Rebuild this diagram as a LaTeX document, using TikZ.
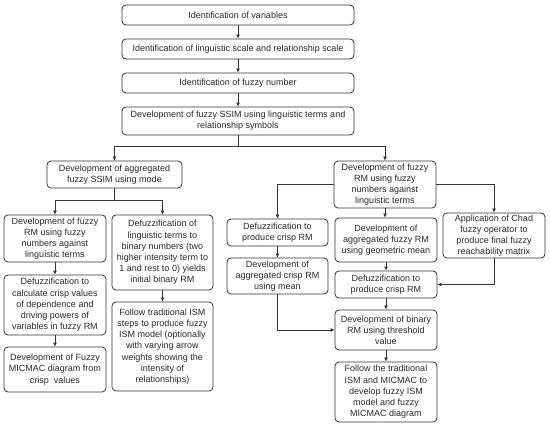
\documentclass[tikz,border=0pt]{standalone}
\usepackage{fontspec}
\setmainfont{Liberation Sans}
\usetikzlibrary{arrows.meta}
\definecolor{ln}{HTML}{333333}
\definecolor{tx}{HTML}{2B2B2B}
\begin{document}
\begin{tikzpicture}[x=1pt,y=-1pt,
  box/.style={draw=ln, line width=0.8pt, rounded corners=4pt, fill=white, align=center,
    inner sep=0pt, text=tx, font=\fontsize{9}{11.2}\selectfont},
  arr/.style={draw=ln, line width=0.8pt, -{Latex[length=4pt,width=4pt]}},
  ln/.style={draw=ln, line width=0.8pt}]
\useasboundingbox (0,0) rectangle (550,427);
\fill[white] (0,0) rectangle (550,427);
% top chain
\node[box, minimum width=232pt, minimum height=20pt] (b1) at (238,15) {Identification of variables};
\node[box, minimum width=232pt, minimum height=20pt] (b2) at (238,49) {Identification of linguistic scale and relationship scale};
\node[box, minimum width=232pt, minimum height=20pt] (b3) at (238,83) {Identification of fuzzy number};
\node[box, minimum width=232pt, minimum height=28pt] (b4) at (238,121) {Development of fuzzy SSIM using linguistic terms and\\relationship symbols};
% left branch
\node[box, minimum width=135pt, minimum height=27pt] (a) at (114.5,174.5) {Development of aggregated\\fuzzy SSIM using mode};
\node[box, minimum width=102pt, minimum height=47pt] (l1) at (55,238.5) {Development of fuzzy\\RM using fuzzy\\numbers against\\linguistic terms};
\node[box, minimum width=102pt, minimum height=60pt] (l1b) at (55,305) {Defuzzification to\\calculate crisp values\\of dependence and\\driving powers of\\variables in fuzzy RM};
\node[box, minimum width=102pt, minimum height=45pt] (l1c) at (55,369.5) {Development of Fuzzy\\MICMAC diagram from\\crisp\ \ values};
\node[box, minimum width=101pt, minimum height=75pt] (l2) at (162.5,252.5) {Defuzzification of\\linguistic terms to\\binary numbers (two\\higher intensity term to\\1 and rest to 0) yields\\initial binary RM};
\node[box, minimum width=101pt, minimum height=89pt] (l2b) at (162.5,346.5) {Follow traditional ISM\\steps to produce fuzzy\\ISM model (optionally\\with varying arrow\\weights showing the\\intensity of\\relationships)};
% right branch
\node[box, minimum width=102pt, minimum height=47pt] (r) at (385,184.5) {Development of fuzzy\\RM using fuzzy\\numbers against\\linguistic terms};
\node[box, minimum width=101pt, minimum height=27pt] (r1) at (277.5,232.5) {Defuzzification to\\produce crisp RM};
\node[box, minimum width=101pt, minimum height=36pt] (r1b) at (277.5,276) {Development of\\aggregated crisp RM\\using mean};
\node[box, minimum width=102pt, minimum height=44pt] (r2) at (386,240) {Development of\\aggregated fuzzy RM\\using geometric mean};
\node[box, minimum width=102pt, minimum height=27pt] (r2b) at (386,284.5) {Defuzzification to\\produce crisp RM};
\node[box, minimum width=102pt, minimum height=45pt] (r3) at (494,235.5) {Application of Chad\\fuzzy operator to\\produce final fuzzy\\reachability matrix};
\node[box, minimum width=102pt, minimum height=40pt] (r4) at (386,330) {Development of binary\\RM using threshold\\value};
\node[box, minimum width=102pt, minimum height=60pt] (r5) at (386,392) {Follow the traditional\\ISM and MICMAC to\\develop fuzzy ISM\\model and fuzzy\\MICMAC diagram};
% junctions
\coordinate (j1) at (238,146);
\coordinate (j2) at (114.5,200);
% connectors
\draw[arr] (b1) -- (b2);
\draw[arr] (b2) -- (b3);
\draw[arr] (b3) -- (b4);
\draw[ln] (b4.south) -- (j1);
\draw[arr] (j1) -| (a.north);
\draw[arr] (j1) -| (r.north);
\draw[ln] (a.south) -- (j2);
\draw[arr] (j2) -| (l1.north);
\draw[arr] (j2) -| (l2.north);
\draw[arr] (l1) -- (l1b);
\draw[arr] (l1b) -- (l1c);
\draw[arr] (l2) -- (l2b);
\draw[arr] (r.west) -| (r1.north);
\draw[arr] (r.east) -| (r3.north);
\draw[arr] (r.south) -- (r.south |- r2.north);
\draw[arr] (r1) -- (r1b);
\draw[arr] (r1b.south) |- (r4.west);
\draw[arr] (r2) -- (r2b);
\draw[arr] (r3.south) |- (r2b.east);
\draw[arr] (r2b) -- (r4);
\draw[arr] (r4) -- (r5);
\end{tikzpicture}
\end{document}
